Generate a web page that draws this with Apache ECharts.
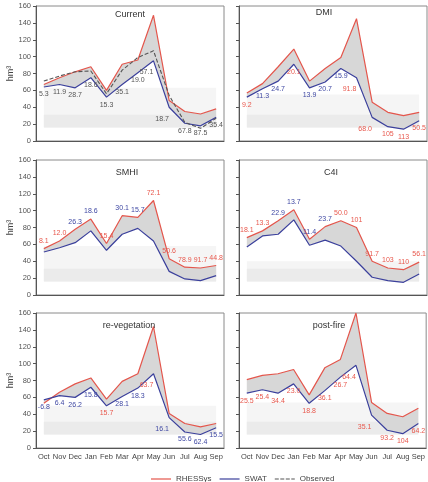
<!DOCTYPE html>
<html>
<head>
<meta charset="utf-8">
<script src="https://cdn.jsdelivr.net/npm/echarts@6/dist/echarts.min.js"></script>
<style>
html, body { margin: 0; padding: 0; background: #fff; }
#chart { width: 428px; height: 482px; }
</style>
</head>
<body>
<div id="chart"></div>
<script>
var months = ['Oct', 'Nov', 'Dec', 'Jan', 'Feb', 'Mar', 'Apr', 'May', 'Jun', 'Jul', 'Aug', 'Sep'];

// Current
var currentRhessys = [67, 75, 82, 88, 60, 91, 96, 149, 48, 35, 32, 38];
var currentSwat = [64, 67, 63, 75, 52, 67, 81, 95, 40, 21, 18, 28];
var currentObserved = [71, 77, 82, 83, 56, 84, 99, 107, 54, 22, 15, 27];
var currentLabels = ['5.3', '11.9', '28.7', '18.6', '15.3', '35.1', '19.0', '57.1', '18.7', '67.8', '87.5', '35.4'];
var currentLabelModel = ['O', 'O', 'O', 'O', 'O', 'O', 'O', 'O', 'O', 'O', 'O', 'O'];

// DMI
var dmiRhessys = [57, 68, 88, 109, 71, 86, 99, 145, 46, 34, 30, 34];
var dmiSwat = [52, 62, 71, 91, 63, 70, 86, 75, 28, 17, 14, 24];
var dmiLabels = ['9.2', '11.3', '24.7', '20.1', '13.9', '20.7', '15.9', '91.8', '68.0', '105', '113', '50.5'];
var dmiLabelModel = ['R', 'S', 'S', 'R', 'S', 'S', 'S', 'R', 'R', 'R', 'R', 'R'];

// SMHI
var smhiRhessys = [55, 64, 78, 90, 61, 94, 92, 112, 43, 33, 32, 35];
var smhiSwat = [51, 56, 62, 76, 53, 72, 79, 64, 28, 19, 17, 23];
var smhiLabels = ['8.1', '12.0', '26.3', '18.6', '15.4', '30.1', '15.7', '72.1', '50.6', '78.9', '91.7', '44.8'];
var smhiLabelModel = ['R', 'R', 'S', 'S', 'R', 'S', 'S', 'R', 'R', 'R', 'R', 'R'];

// C4I
var c4iRhessys = [68, 76, 88, 101, 66, 81, 88, 80, 40, 32, 30, 39];
var c4iSwat = [57, 70, 72, 89, 59, 65, 58, 40, 21, 17, 15, 25];
var c4iLabels = ['18.1', '13.3', '22.9', '13.7', '11.4', '23.7', '50.0', '101', '91.7', '103', '110', '56.1'];
var c4iLabelModel = ['R', 'R', 'S', 'S', 'S', 'S', 'R', 'R', 'R', 'R', 'R', 'R'];

// re-vegetation
var revegRhessys = [53, 66, 76, 83, 58, 79, 88, 144, 41, 29, 25, 29];
var revegSwat = [57, 62, 60, 72, 50, 61, 71, 88, 36, 19, 16, 24];
var revegLabels = ['-6.8', '6.4', '26.2', '15.8', '15.7', '28.1', '18.3', '63.7', '16.1', '55.6', '62.4', '15.5'];
var revegLabelModel = ['S', 'S', 'S', 'S', 'R', 'S', 'S', 'R', 'S', 'S', 'S', 'S'];

// post-fire
var postfireRhessys = [81, 86, 88, 93, 63, 95, 105, 160, 54, 41, 37, 47];
var postfireSwat = [65, 69, 65, 76, 53, 68, 84, 98, 39, 21, 17, 29];
var postfireLabels = ['25.5', '25.4', '34.4', '23.0', '18.8', '36.1', '26.7', '64.4', '35.1', '93.2', '104', '64.2'];
var postfireLabelModel = ['R', 'R', 'R', 'R', 'R', 'R', 'R', 'R', 'R', 'R', 'R', 'R'];

var RED = '#e4564c';
var BLUE = '#3b409c';
var FONT = 'Liberation Sans, Arial, sans-serif';
var labelColors = { R: '#e8584d', S: '#3f48a3', O: '#555' };

var panels = [
    { title: 'Current', r: currentRhessys, s: currentSwat, o: currentObserved, labels: currentLabels, model: currentLabelModel, above: false, band: 63 },
    { title: 'DMI', r: dmiRhessys, s: dmiSwat, labels: dmiLabels, model: dmiLabelModel, above: false, band: 55 },
    { title: 'SMHI', r: smhiRhessys, s: smhiSwat, labels: smhiLabels, model: smhiLabelModel, above: true, band: 58 },
    { title: 'C4I', r: c4iRhessys, s: c4iSwat, labels: c4iLabels, model: c4iLabelModel, above: true, band: 40 },
    { title: 're-vegetation', r: revegRhessys, s: revegSwat, labels: revegLabels, model: revegLabelModel, above: false, band: 50 },
    { title: 'post-fire', r: postfireRhessys, s: postfireSwat, labels: postfireLabels, model: postfireLabelModel, above: false, band: 54 }
];

var colLeft = [36, 239];
var rowTop = [6, 160, 313];
var titlePos = [[130, 15], [324, 13], [127, 173], [331, 173], [129, 326], [329, 326]];

var grids = [], xAxes = [], yAxes = [], series = [], graphics = [];

panels.forEach(function (p, i) {
    var col = i % 2, row = Math.floor(i / 2);
    grids.push({
        left: colLeft[col], top: rowTop[row], width: 188, height: 135,
        show: true, borderColor: '#8a8a8a', borderWidth: 1, backgroundColor: 'transparent'
    });
    xAxes.push({
        gridIndex: i, type: 'category', data: months, boundaryGap: true,
        axisLine: { lineStyle: { color: '#555' } },
        axisTick: { alignWithLabel: true, interval: 0, length: 3, lineStyle: { color: '#555' } },
        axisLabel: { show: row === 2, interval: 0, hideOverlap: false, fontSize: 7.5, color: '#444', margin: 5, fontFamily: FONT }
    });
    yAxes.push({
        gridIndex: i, type: 'value', min: 0, max: 160, interval: 20,
        splitLine: { show: false },
        axisLine: { show: true, lineStyle: { color: '#555' } },
        axisTick: { show: true, length: 3, lineStyle: { color: '#555' } },
        axisLabel: { show: col === 0, fontSize: 7.5, color: '#555', margin: 5, fontFamily: FONT },
        name: col === 0 ? 'hm³' : '', nameLocation: 'middle', nameRotate: 90, nameGap: 21,
        nameTextStyle: { fontSize: 9, color: '#444', fontFamily: FONT }
    });

    var stack = 'fill' + i;
    // base of the fill (SWAT), carries the light background band
    series.push({
        type: 'line', xAxisIndex: i, yAxisIndex: i, stack: stack, stackStrategy: 'all',
        data: p.s, symbol: 'none', lineStyle: { opacity: 0 }, silent: true, z: 1,
        markArea: {
            silent: true,
            data: [
                [{ xAxis: 'Oct', yAxis: 16, itemStyle: { color: '#f5f5f5' } }, { xAxis: 'Sep', yAxis: p.band }],
                [{ xAxis: 'Oct', yAxis: 16, itemStyle: { color: '#ebebeb' } }, { xAxis: 'Sep', yAxis: 31 }]
            ]
        }
    });
    // gap between RHESSys and SWAT
    series.push({
        type: 'line', xAxisIndex: i, yAxisIndex: i, stack: stack, stackStrategy: 'all',
        data: p.r.map(function (v, k) { return v - p.s[k]; }),
        symbol: 'none', lineStyle: { opacity: 0 }, silent: true, z: 2,
        areaStyle: { color: '#d7d7d7', opacity: 1 }
    });

    function labelled(values) {
        return values.map(function (v, k) {
            var off = [0, 0];
            if (!p.above && (k === 7 || k === 8)) off = [-7, 4];
            return {
                value: v,
                label: {
                    show: true, formatter: p.labels[k], position: p.above ? 'top' : 'bottom',
                    distance: 4, offset: off, fontSize: 7, fontFamily: FONT,
                    color: labelColors[p.model[k]]
                }
            };
        });
    }

    series.push({
        name: 'RHESSys', type: 'line', xAxisIndex: i, yAxisIndex: i,
        data: p.above ? labelled(p.r) : p.r,
        symbol: 'circle', symbolSize: 0.1, showSymbol: true, z: 3,
        itemStyle: { color: RED }, lineStyle: { color: RED, width: 1.2 }
    });
    series.push({
        name: 'SWAT', type: 'line', xAxisIndex: i, yAxisIndex: i,
        data: p.above ? p.s : labelled(p.s),
        symbol: 'circle', symbolSize: 0.1, showSymbol: true, z: 3,
        itemStyle: { color: BLUE }, lineStyle: { color: BLUE, width: 1.2 }
    });
    if (p.o) {
        series.push({
            name: 'Observed', type: 'line', xAxisIndex: i, yAxisIndex: i,
            data: p.o, symbol: 'none', z: 3,
            itemStyle: { color: '#555' }, lineStyle: { color: '#555', width: 1.1, type: [4, 2] }
        });
    }

    graphics.push({
        type: 'text', x: titlePos[i][0], y: titlePos[i][1], z: 10,
        style: { text: p.title, textAlign: 'center', textVerticalAlign: 'middle', font: '9px ' + FONT, fill: '#333' }
    });
});

var chart = echarts.init(document.getElementById('chart'));
chart.setOption({
    animation: false,
    textStyle: { fontFamily: FONT },
    grid: grids,
    xAxis: xAxes,
    yAxis: yAxes,
    series: series,
    graphic: graphics,
    legend: {
        left: 146, top: 470, itemWidth: 20, itemHeight: 8, itemGap: 8,
        textStyle: { fontSize: 8, color: '#444', fontFamily: FONT },
        data: [
            { name: 'RHESSys', icon: 'path://M0,0h20v1.2h-20z' },
            { name: 'SWAT', icon: 'path://M0,0h20v1.2h-20z' },
            { name: 'Observed', icon: 'path://M0,0h4v1.2h-4z M5.5,0h4v1.2h-4z M11,0h4v1.2h-4z M16.5,0h3.5v1.2h-3.5z' }
        ]
    }
});
</script>
</body>
</html>
